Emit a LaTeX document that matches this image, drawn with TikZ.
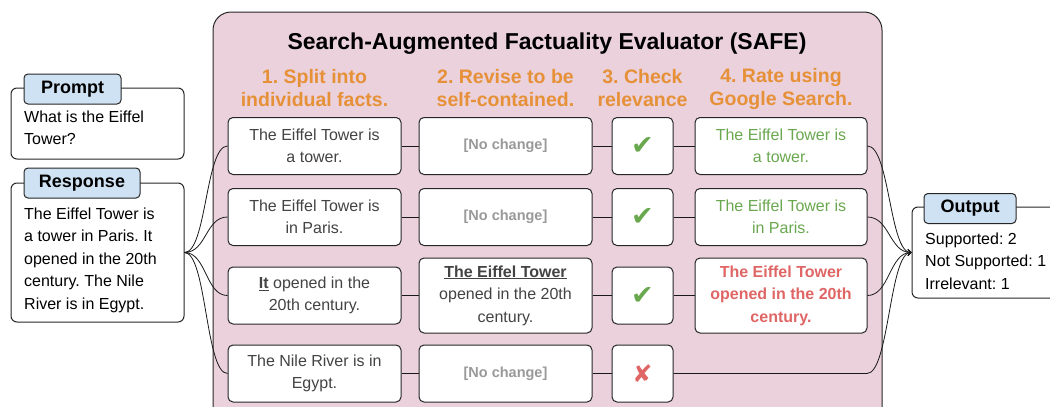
\documentclass[tikz,border=0pt]{standalone}
\usepackage{fontspec}
\setmainfont{Liberation Sans}
\newfontfamily\symfont{DejaVu Sans}
\usetikzlibrary{arrows.meta}
\definecolor{safepink}{HTML}{EAD1DC}
\definecolor{taborange}{HTML}{E69138}
\definecolor{okgreen}{HTML}{6AA84F}
\definecolor{badred}{HTML}{E06666}
\definecolor{tabblue}{HTML}{CFE2F3}
\definecolor{factgray}{HTML}{434343}
\definecolor{nochange}{HTML}{999999}
\frenchspacing
\begin{document}
\begin{tikzpicture}[x=1pt,y=-1pt,
  every node/.append style={inner sep=0pt},
  body/.style={font=\fontsize{16}{22.5}\selectfont},
  box/.style={body,draw=black!85,line width=1pt,rounded corners=5pt,fill=white,align=center,text=factgray},
  factbox/.style={box,minimum width=173pt,minimum height=57pt},
  tallbox/.style={box,minimum width=173pt,minimum height=75pt},
  checkbox/.style={box,minimum width=61pt,minimum height=57pt,font=\symfont\fontsize{27}{28}\selectfont},
  tabbox/.style={draw=black!85,line width=1pt,rounded corners=4pt,fill=tabblue,font=\fontsize{18}{20}\selectfont\bfseries,minimum height=30pt},
  inbox/.style={draw=black!85,line width=1pt,rounded corners=6pt,fill=white},
  header/.style={align=center,text=taborange,font=\fontsize{19.5}{23}\selectfont\bfseries},
  link/.style={draw=black!90,line width=0.8pt},
  outlink/.style={link,-{Straight Barb[length=3pt,width=6pt]}}]
\useasboundingbox (0,0) rectangle (1050,407);

% the evaluator
\node[draw=black!85,line width=1pt,fill=safepink,rounded corners=18pt,minimum width=669pt,minimum height=420pt] (safe) at (547.5,222) {};
\node[font=\fontsize{23}{27}\selectfont\bfseries] (title) at (547,44) {Search-Augmented Factuality Evaluator (SAFE)};
\node[header] (head1) at (314.5,88.5) {1. Split into\\individual facts.};
\node[header] (head2) at (505.5,88.5) {2. Revise to be\\self-contained.};
\node[header] (head3) at (642.5,88.5) {3. Check\\relevance};
\node[header] (head4) at (781,88.5) {4. Rate using\\Google Search.};

% inputs
\node[inbox,minimum width=173pt,minimum height=71pt] (prompt) at (97.5,123.5) {};
\node[tabbox,minimum width=97pt] (prompttab) at (72.5,89) {Prompt};
\node[body,anchor=west,align=left] (prompttext) at (24,128) {What is the Eiffel\\Tower?};
\node[inbox,minimum width=173pt,minimum height=139pt] (resp) at (97.5,252.5) {};
\node[tabbox,minimum width=116pt] (resptab) at (82,183) {Response};
\node[body,anchor=west,align=left] (resptext) at (24,260) {The Eiffel Tower is\\a tower in Paris. It\\opened in the 20th\\century. The Nile\\River is in Egypt.};

% output
\node[inbox,minimum width=220pt,minimum height=91pt] (out) at (1022,252.5) {};
\node[tabbox,minimum width=92pt] (outtab) at (970,208.5) {Output};
\node[body,anchor=west,align=left] (outtext) at (925,261) {Supported: 2\\Not Supported: 1\\Irrelevant: 1};

% step 1
\node[factbox] (fact1) at (314.5,146) {The Eiffel Tower is\\a tower.};
\node[factbox] (fact2) at (314.5,217) {The Eiffel Tower is\\in Paris.};
\node[factbox] (fact3) at (314.5,295.5) {\underline{\textbf{It}} opened in the\\20th century.};
\node[factbox] (fact4) at (314.5,373.5) {The Nile River is in\\Egypt.};

% step 2
\node[factbox] (rev1) at (505.5,146) {\textcolor{nochange}{\fontsize{14.5}{16}\selectfont\bfseries [No change]}};
\node[factbox] (rev2) at (505.5,217) {\textcolor{nochange}{\fontsize{14.5}{16}\selectfont\bfseries [No change]}};
\node[tallbox] (rev3) at (505.5,295.5) {\underline{\textbf{The Eiffel Tower}}\\opened in the 20th\\century.};
\node[factbox] (rev4) at (505.5,373.5) {\textcolor{nochange}{\fontsize{14.5}{16}\selectfont\bfseries [No change]}};

% step 3
\node[checkbox,text=okgreen] (chk1) at (642.5,146) {✔};
\node[checkbox,text=okgreen] (chk2) at (642.5,217) {✔};
\node[checkbox,text=okgreen] (chk3) at (642.5,295.5) {✔};
\node[checkbox,text=badred,font=\symfont\fontsize{24}{26}\selectfont] (chk4) at (642.5,373.5) {✘};

% step 4
\node[factbox,minimum width=172pt,text=okgreen] (rate1) at (781,146) {The Eiffel Tower is\\a tower.};
\node[factbox,minimum width=172pt,text=okgreen] (rate2) at (781,217) {The Eiffel Tower is\\in Paris.};
\node[tallbox,minimum width=172pt,text=badred,font=\fontsize{16}{22.5}\selectfont\bfseries] (rate3) at (781,295.5) {The Eiffel Tower\\opened in the 20th\\century.};
\coordinate (end4) at (867,373.5);

% links
\draw[link] (resp.east) .. controls +(22,0) and +(-22,0) .. (fact1.west);
\draw[link] (resp.east) .. controls +(22,0) and +(-22,0) .. (fact2.west);
\draw[link] (resp.east) .. controls +(22,0) and +(-22,0) .. (fact3.west);
\draw[link] (resp.east) .. controls +(22,0) and +(-22,0) .. (fact4.west);
\draw[link] (fact1) -- (rev1) (rev1) -- (chk1) (chk1) -- (rate1);
\draw[link] (fact2) -- (rev2) (rev2) -- (chk2) (chk2) -- (rate2);
\draw[link] (fact3) -- (rev3) (rev3) -- (chk3) (chk3) -- (rate3);
\draw[link] (fact4) -- (rev4) (rev4) -- (chk4);
\draw[outlink] (rate1.east) .. controls +(22,0) and +(-22,0) .. (out.west);
\draw[outlink] (rate2.east) .. controls +(22,0) and +(-22,0) .. (out.west);
\draw[outlink] (rate3.east) .. controls +(22,0) and +(-22,0) .. (out.west);
\draw[outlink] (chk4.east) -- (end4) .. controls +(22,0) and +(-22,0) .. (out.west);
\end{tikzpicture}
\end{document}
